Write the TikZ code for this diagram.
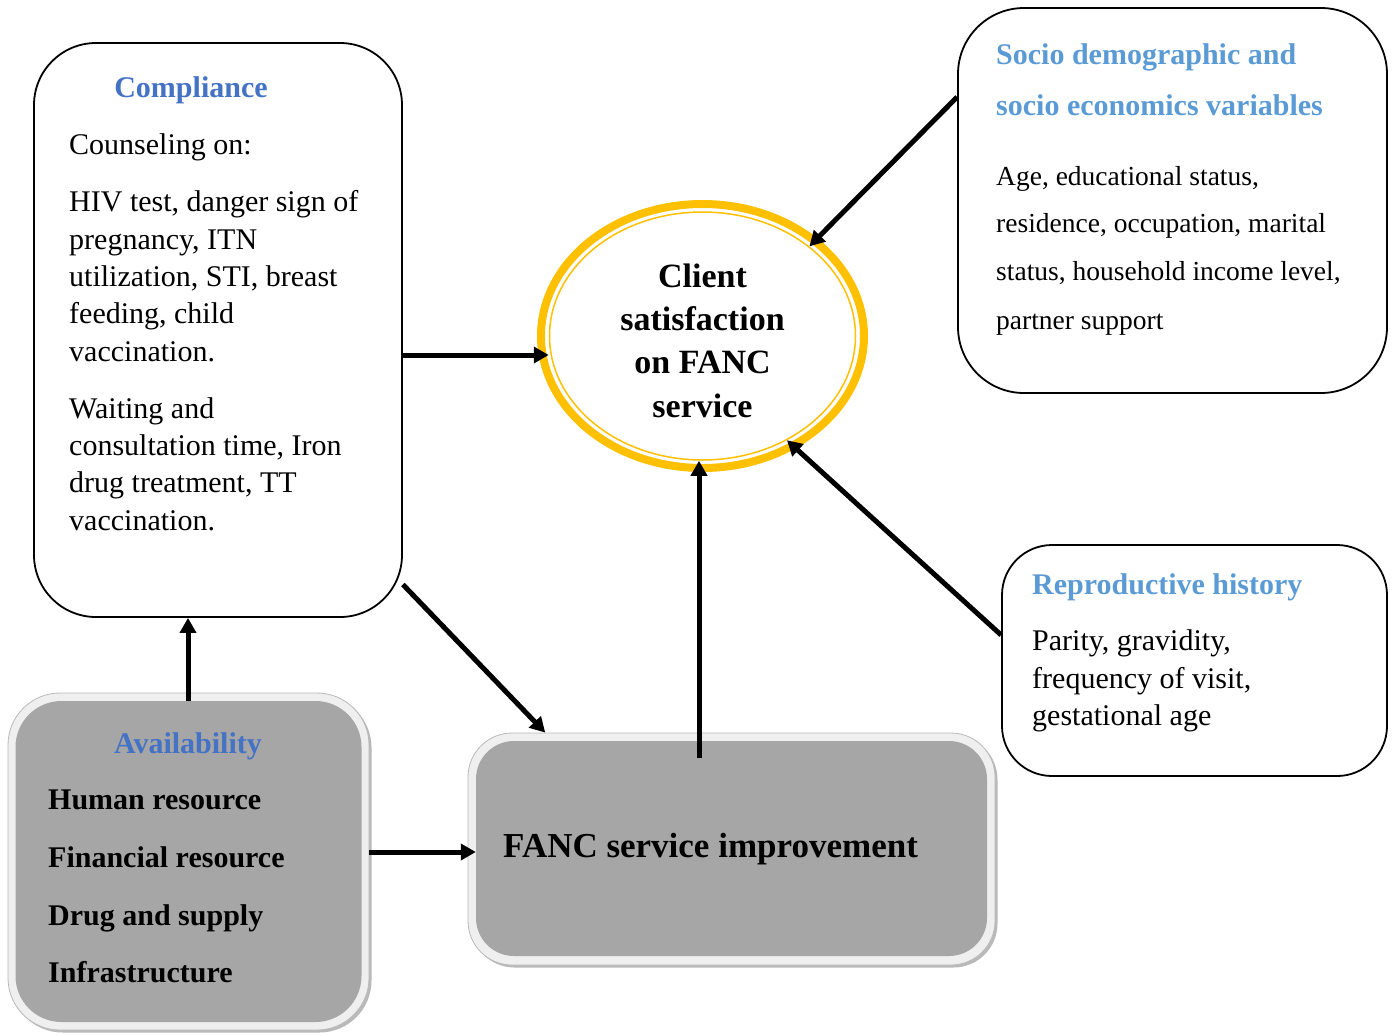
\documentclass[tikz,border=0pt]{standalone}
\usepackage{fontspec}
\setmainfont{Liberation Serif}
\usetikzlibrary{shapes.geometric,arrows.meta}
\definecolor{tblue}{HTML}{4472C4}
\definecolor{lblue}{HTML}{5B9BD5}
\definecolor{gold}{HTML}{FFC000}
\definecolor{boxgray}{HTML}{A6A6A6}
\definecolor{framegray}{HTML}{EFEFEF}
\tikzset{
  wbox/.style={draw=black, line width=1.8pt, fill=white, inner sep=0pt},
  gframe/.style={draw=gray!55, line width=0.8pt, fill=framegray, inner sep=0pt},
  gshadow/.style={fill=gray!55, inner sep=0pt},
  gbox/.style={fill=boxgray, inner sep=0pt},
  body/.style={anchor=base west, inner sep=0pt, font=\fontsize{30}{36}\selectfont},
  sbody/.style={anchor=base west, inner sep=0pt, font=\fontsize{27.5}{33}\selectfont},
  ttl/.style={inner sep=0pt, font=\fontsize{30}{36}\selectfont\bfseries},
  bbody/.style={anchor=base west, inner sep=0pt, font=\fontsize{30}{36}\selectfont\bfseries},
  ctext/.style={anchor=base, inner sep=0pt, font=\fontsize{34}{40}\selectfont\bfseries},
  arr/.style={line width=5pt, -{Triangle[length=15pt,width=16pt]}},
}
\begin{document}
\begin{tikzpicture}[x=1pt,y=-1pt]
\useasboundingbox (0,0) rectangle (1392,1034);
% ---------- Compliance box
\node[wbox, rounded corners=62pt, minimum width=368pt, minimum height=574pt] (comp) at (218,330) {};
\node[ttl, text=tblue, anchor=base] (compt) at (191,97) {Compliance};
\foreach \yy/\tt [count=\i] in {154.5/{Counseling on:}, 211.5/{HIV test, danger sign of}, 249/{pregnancy, ITN}, 286.5/{utilization, STI, breast}, 323.5/{feeding, child}, 361/{vaccination.}, 418.5/{Waiting and}, 455.5/{consultation time, Iron}, 492.5/{drug treatment, TT}, 530/{vaccination.}}
  \node[body] (cl\i) at (69,\yy) {\tt};
% ---------- Socio box
\node[wbox, rounded corners=66pt, minimum width=429pt, minimum height=385pt] (soc) at (1172.5,200.5) {};
\node[ttl, text=lblue, anchor=base west] (soct1) at (996,64) {Socio demographic and};
\node[ttl, text=lblue, anchor=base west] (soct2) at (996,115) {socio economics variables};
\foreach \yy/\tt [count=\i] in {185/{Age, educational status,}, 232/{residence, occupation, marital}, 280/{status, household income level,}, 329/{partner support}}
  \node[sbody] (sl\i) at (996,\yy) {\tt};
% ---------- Reproductive box
\node[wbox, rounded corners=50pt, minimum width=385pt, minimum height=231pt] (rep) at (1194.5,660.5) {};
\node[ttl, text=lblue, anchor=base west] (rept) at (1032,594) {Reproductive history};
\foreach \yy/\tt [count=\i] in {650/{Parity, gravidity,}, 688/{frequency of visit,}, 725/{gestational age}}
  \node[body] (rl\i) at (1032,\yy) {\tt};
% ---------- Client satisfaction ellipse
\node[ellipse, draw=gold, line width=8pt, fill=white, inner sep=0pt, minimum width=323pt, minimum height=264pt] (ell) at (702.5,336) {};
\node[ellipse, draw=gold, line width=1.5pt, inner sep=0pt, minimum width=306pt, minimum height=248pt] (ell2) at (702.5,336) {};
\node[ctext] (e1) at (702.5,287) {Client};
\node[ctext] (e2) at (702.5,330) {satisfaction};
\node[ctext] (e3) at (702.5,373) {on FANC};
\node[ctext] (e4) at (702.5,417) {service};
% ---------- Availability box
\node[gshadow, rounded corners=52pt, minimum width=361pt, minimum height=337pt] (avsh) at (191,864) {};
\node[gframe, rounded corners=52pt, minimum width=361pt, minimum height=337pt] (avout) at (188.5,861.5) {};
\node[gbox, rounded corners=46pt, minimum width=346pt, minimum height=321pt] (avin) at (188.5,861.5) {};
\node[ttl, text=tblue, anchor=base] (avt) at (188,753) {Availability};
\foreach \yy/\tt [count=\i] in {809/{Human resource}, 867/{Financial resource}, 925/{Drug and supply}, 982/{Infrastructure}}
  \node[bbody] (al\i) at (48,\yy) {\tt};
% ---------- FANC service improvement box
\node[gshadow, rounded corners=44pt, minimum width=527pt, minimum height=232pt] (fsh) at (734,851.5) {};
\node[gframe, rounded corners=44pt, minimum width=527pt, minimum height=232pt] (fout) at (731.5,849) {};
\node[gbox, rounded corners=38pt, minimum width=511pt, minimum height=215pt] (fin) at (731.5,848.5) {};
\node[anchor=base west, inner sep=0pt, font=\fontsize{35}{40}\selectfont\bfseries] (ft) at (503,857) {FANC service improvement};
% ---------- connectors
\coordinate (s5) at (699,758);
\draw[arr] (comp.east |- 0,355) -- (ell2.west |- 0,355);
\draw[arr] (soc.west |- 0,97) -- (ell2.40);
\draw[arr] (avin.north -| 188,0) -- (comp.south -| 188,0);
\draw[arr] (comp.-54) -- (fout.148);
\draw[arr] (s5) -- (s5 |- ell2.south);
\draw[arr] (avout.east |- 0,852) -- (fin.west |- 0,852);
\draw[arr] (rep.west |- 0,635) -- (ell2.-51);
\end{tikzpicture}
\end{document}
